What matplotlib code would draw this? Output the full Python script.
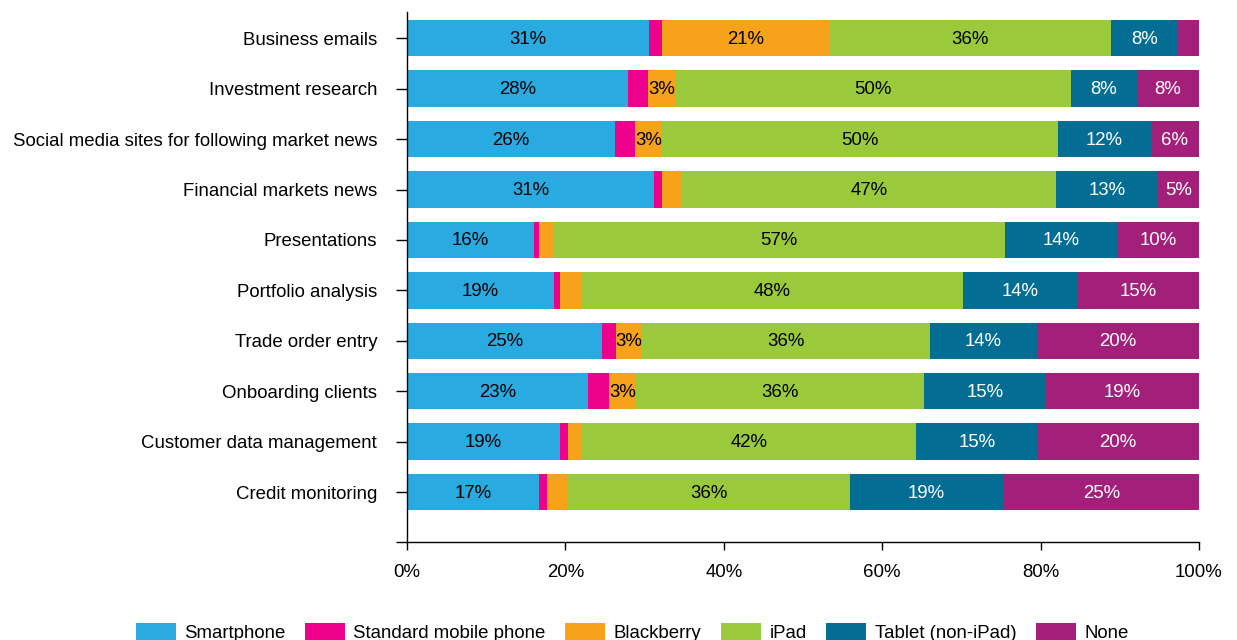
import matplotlib
matplotlib.use("Agg")
import matplotlib.pyplot as plt
import numpy as np

plt.rcParams['font.family'] = ['Liberation Sans', 'DejaVu Sans']

categories = [
    "Business emails",
    "Investment research",
    "Social media sites for following market news",
    "Financial markets news",
    "Presentations",
    "Portfolio analysis",
    "Trade order entry",
    "Onboarding clients",
    "Customer data management",
    "Credit monitoring",
]
series_names = ["Smartphone", "Standard mobile phone", "Blackberry", "iPad",
                "Tablet (non-iPad)", "None"]

smartphone = [30.6, 27.9, 26.3, 31.2, 16.0, 18.6, 24.6, 22.8, 19.3, 16.7]
standard_mobile = [1.6, 2.5, 2.5, 1.0, 0.7, 0.7, 1.8, 2.7, 1.0, 1.0]
blackberry = [21.1, 3.4, 3.4, 2.4, 1.8, 2.7, 3.2, 3.4, 1.7, 2.6]
ipad = [35.6, 50.0, 50.0, 47.4, 57.0, 48.2, 36.4, 36.4, 42.3, 35.6]
tablet = [8.4, 8.4, 11.7, 12.8, 14.2, 14.4, 13.6, 15.3, 15.3, 19.4]
none = [2.7, 7.8, 6.1, 5.2, 10.3, 15.4, 20.4, 19.4, 20.4, 24.7]

colors = ["#29ABE2", "#EC008C", "#F7A21B", "#9ACA3C", "#046D94", "#A3207A"]
text_colors = ["black", "black", "black", "black", "white", "white"]

data = [smartphone, standard_mobile, blackberry, ipad, tablet, none]

FS = 13.4

fig = plt.figure(figsize=(12.37, 6.40), dpi=100)
ax = fig.add_axes([407/1237, 1 - 542/640, (1199 - 407)/1237, (542 - 12)/640])

y = np.arange(len(categories))
left = np.zeros(len(categories))
for vals, name, col, tcol in zip(data, series_names, colors, text_colors):
    vals = np.array(vals)
    ax.barh(y, vals, left=left, height=0.72, color=col, label=name)
    for yi, (l, v) in enumerate(zip(left, vals)):
        if v >= 3.0:
            ax.text(l + v / 2, yi + 0.02, f"{int(round(v))}%", ha="center", va="center",
                    color=tcol, fontsize=FS)
    left += vals

ax.set_xlim(0, 100)
ax.set_ylim(len(categories) - 1 + 0.99, -0.52)
ax.set_xticks(np.arange(0, 101, 20))
ax.set_xticklabels([f"{v}%" for v in range(0, 101, 20)], fontsize=FS)
ax.set_yticks(list(y) + [len(categories) - 1 + 0.99])
ax.set_yticklabels(categories + [""], fontsize=FS)
ax.tick_params(axis="y", length=8, width=1, pad=13.5)
ax.tick_params(axis="x", length=6, width=1, pad=9.5)
for s in ["top", "right"]:
    ax.spines[s].set_visible(False)
ax.spines["left"].set_linewidth(1)
ax.spines["bottom"].set_linewidth(1)

fig.legend(loc="lower center", ncol=6, bbox_to_anchor=(0.511, -0.03), frameon=False,
           fontsize=FS, handlelength=2.15, handleheight=1.1, columnspacing=1.05,
           handletextpad=0.45)

fig.savefig("out.png", dpi=100)
